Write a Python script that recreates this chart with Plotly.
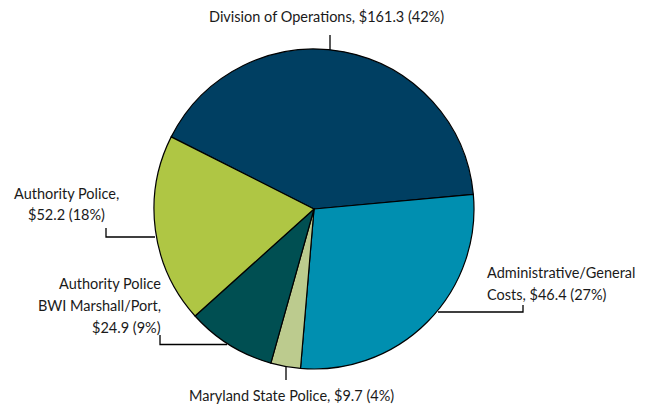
import plotly.graph_objects as go

W, H = 647, 408

categories = ["Division of Operations", "Administrative/General Costs", "Maryland State Police",
              "Authority Police BWI Marshall/Port", "Authority Police"]
share = [41.1, 27.8, 3.0, 9.0, 19.1]
label_lines = [
    ["Division of Operations, $161.3 (42%)"],
    ["Administrative/General", "Costs, $46.4 (27%)"],
    ["Maryland State Police, $9.7 (4%)"],
    ["Authority Police", "BWI Marshall/Port,", "$24.9 (9%)"],
    ["Authority Police,", "$52.2 (18%)"],
]
colors = ["#003f62", "#008fb0", "#bccb8e", "#004f52", "#afc644"]

cx, cy, r = 314, 209, 160

def px(x):
    return x / W

def py(y):
    return 1 - y / H

fig = go.Figure(go.Pie(
    labels=categories, values=share, sort=False, direction="clockwise",
    rotation=-63.2, textinfo="none", hoverinfo="label+percent",
    marker=dict(colors=colors, line=dict(color="black", width=1.2)),
    domain=dict(x=[px(cx - r), px(cx + r)], y=[py(cy + r), py(cy - r)]),
    showlegend=False,
))

font = dict(family="Lato, Open Sans, sans-serif", size=14.5, color="#1a1a1a")

# (x anchor px, xanchor, first line y px, line spacing px)
placements = [
    (326.5, "center", 17, 22),
    (485, "left", 272, 22.5),
    (291, "center", 395, 22),
    (163, "right", 283, 22),
    (66, "center", 193, 21.5),
]
anns = []
for lines, (x, xa, y0, dy) in zip(label_lines, placements):
    for i, t in enumerate(lines):
        anns.append(dict(x=px(x), y=py(y0 + i * dy), text=t, xanchor=xa, yanchor="middle",
                         xref="paper", yref="paper", showarrow=False, font=font))

paths = [
    [(330, 35), (330, 50)],
    [(523, 305), (523, 312), (438, 312)],
    [(286, 367), (286, 380)],
    [(160, 335), (160, 344.5), (227, 344.5)],
    [(106, 228), (106, 237), (155, 237)],
]
shapes = []
for p in paths:
    d = "M " + " L ".join(f"{px(x):.5f},{py(y):.5f}" for x, y in p)
    shapes.append(dict(type="path", path=d, xref="paper", yref="paper",
                       line=dict(color="black", width=1.3)))

fig.update_layout(width=W, height=H, margin=dict(l=0, r=0, t=0, b=0),
                  paper_bgcolor="white", plot_bgcolor="white",
                  annotations=anns, shapes=shapes)

fig.write_html("out.html", config={"displayModeBar": False},
               post_script="document.body.style.margin='0';")
